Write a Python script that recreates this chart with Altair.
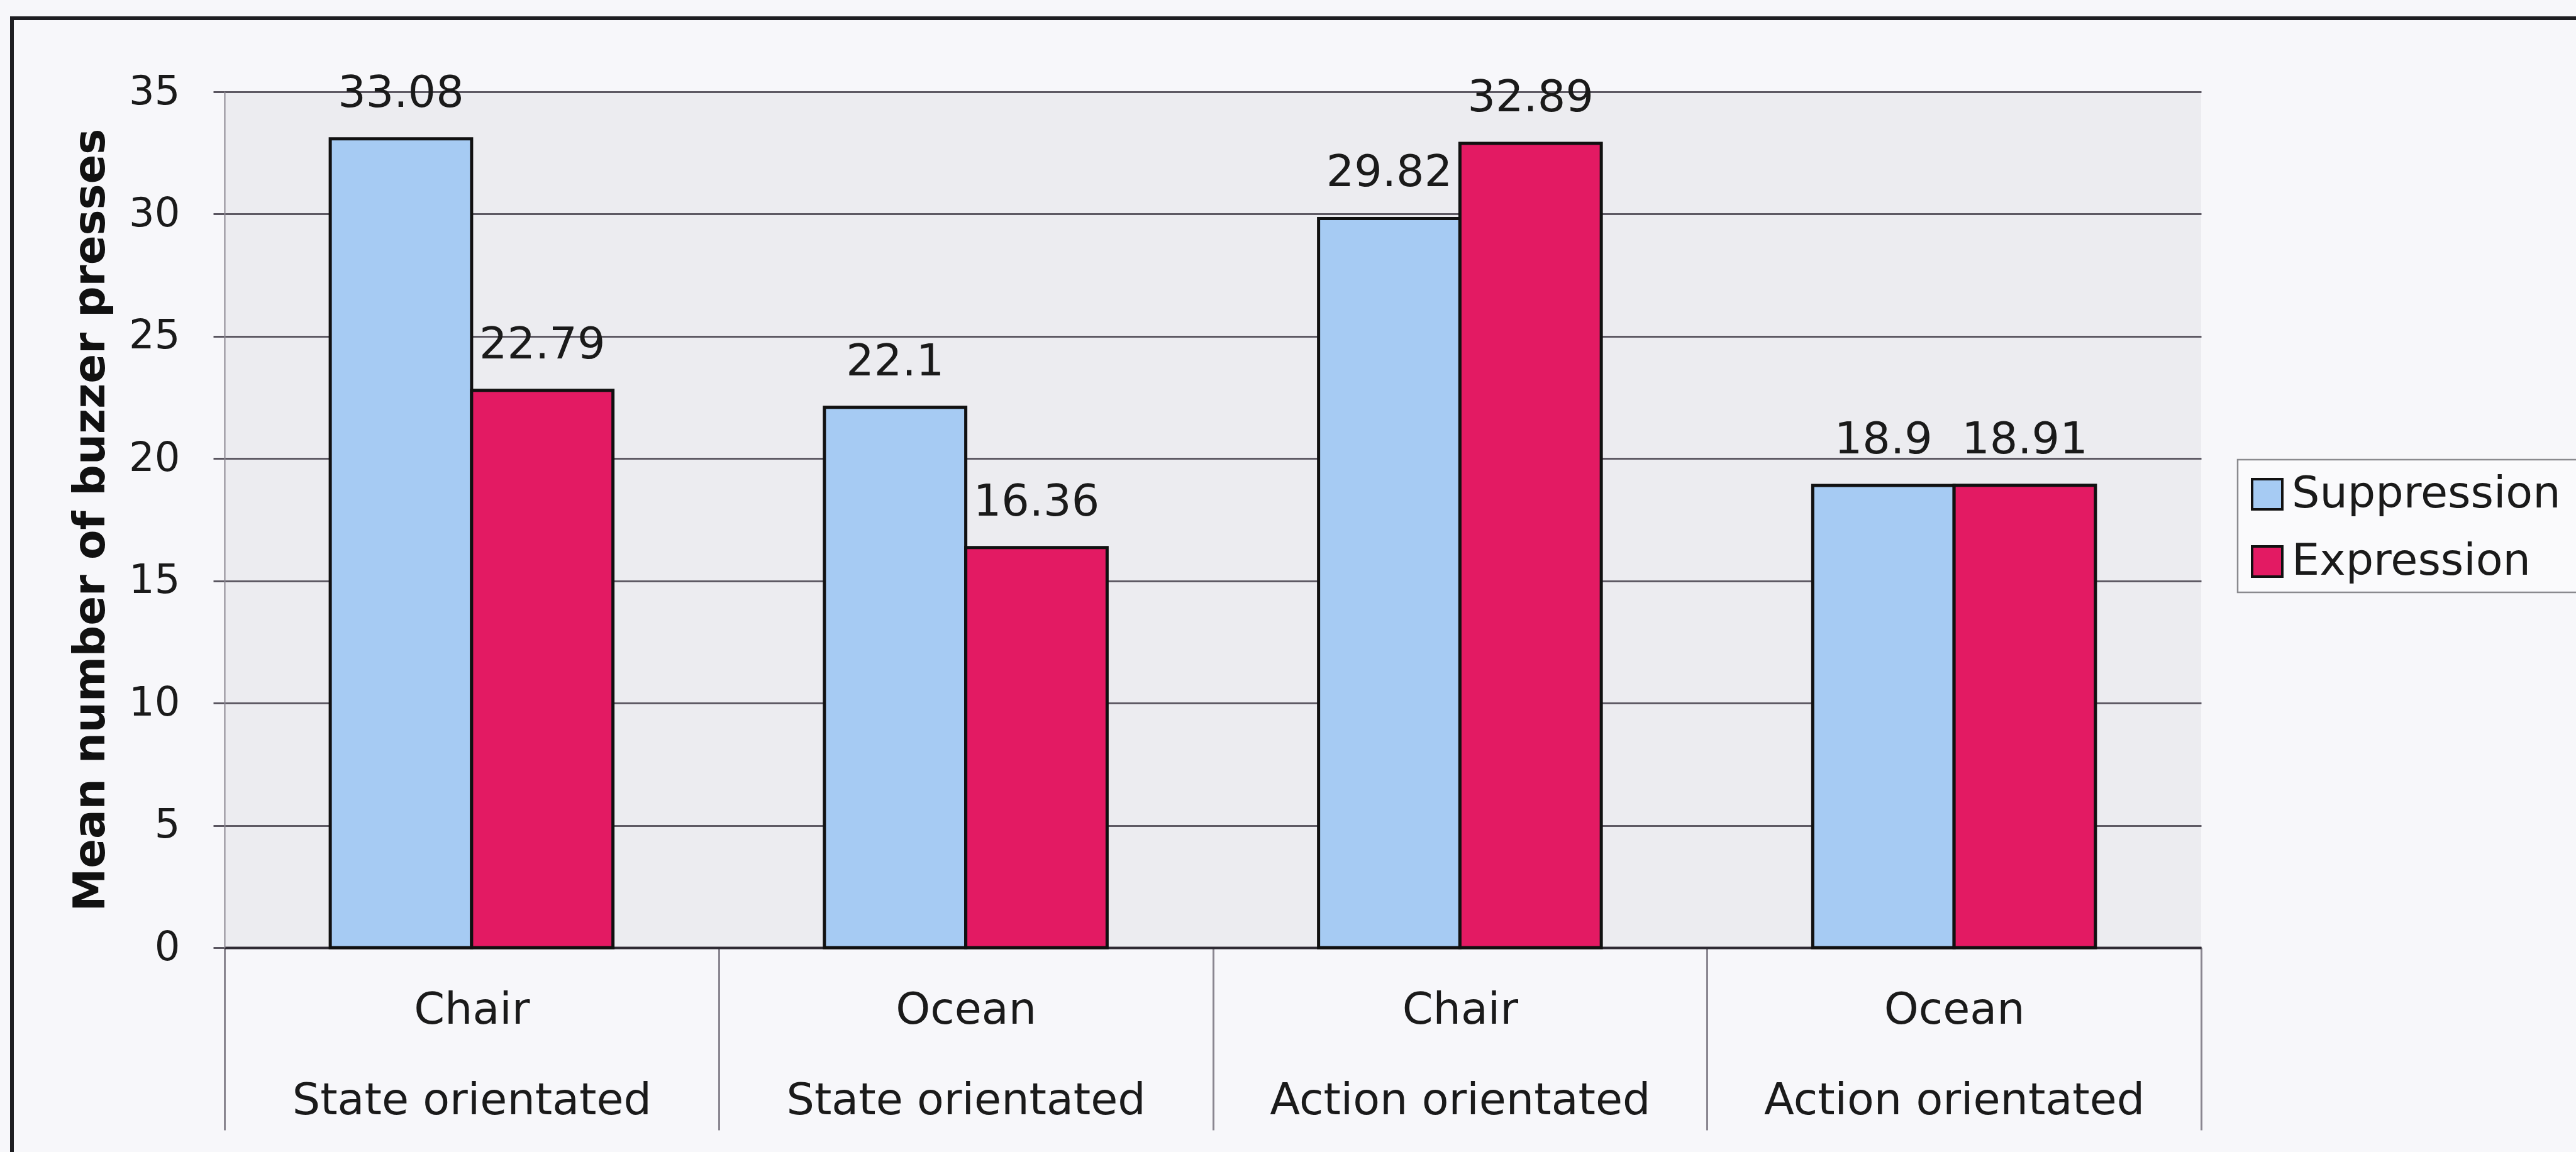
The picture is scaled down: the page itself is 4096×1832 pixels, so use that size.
import altair as alt
import pandas as pd

# Conditions on the x axis (word shown / orientation group)
words = ["Chair", "Ocean", "Chair", "Ocean"]
orientations = ["State orientated", "State orientated", "Action orientated", "Action orientated"]
series = ["Suppression", "Expression"]
suppression = [33.08, 22.1, 29.82, 18.9]
expression = [22.79, 16.36, 32.89, 18.91]
y_ticks = [0, 5, 10, 15, 20, 25, 30, 35]
colors = ["#a6cbf3", "#e31a63"]

conditions = [f"{w} / {o}" for w, o in zip(words, orientations)]
rows = []
for cond, s_val, e_val in zip(conditions, suppression, expression):
    rows.append({"condition": cond, "series": series[0], "value": s_val, "label": str(s_val)})
    rows.append({"condition": cond, "series": series[1], "value": e_val, "label": str(e_val)})
df = pd.DataFrame(rows)

W, H = 3143, 1361
FONT = "DejaVu Sans"

x_enc = alt.X(
    "condition:N",
    sort=conditions,
    scale=alt.Scale(paddingInner=0, paddingOuter=0),
    axis=alt.Axis(
        title=None,
        labelExpr="split(datum.label, ' / ')",
        labelAngle=0,
        labelFont=FONT,
        labelFontSize=70,
        labelColor="#1a1a1a",
        labelLineHeight=144,
        labelBaseline="middle",
        labelPadding=-191,
        labelLimit=0,
        tickBand="extent",
        tickSize=290,
        tickColor="#8a8690",
        tickWidth=3,
        domainColor="#2e2a33",
        domainWidth=4,
    ),
)
xoff_enc = alt.XOffset(
    "series:N", sort=series, scale=alt.Scale(paddingInner=0, paddingOuter=0.748)
)
y_enc = alt.Y(
    "value:Q",
    scale=alt.Scale(domain=[0, 35], nice=False, zero=True),
    axis=alt.Axis(
        values=y_ticks,
        title="Mean number of buzzer presses",
        titleFont=FONT,
        titleFontSize=69,
        titleFontWeight="bold",
        titleColor="#111111",
        titleAngle=270,
        titleAlign="center",
        titleBaseline="middle",
        titleX=-213,
        titleY=H / 2,
        labelFont=FONT,
        labelFontSize=64,
        labelColor="#1a1a1a",
        labelPadding=53,
        tickSize=18,
        tickColor="#5a5660",
        tickWidth=3,
        domainColor="#8a8690",
        domainWidth=2,
        grid=True,
        gridColor="#5e5a64",
        gridWidth=3,
    ),
)
color_enc = alt.Color(
    "series:N",
    sort=series,
    scale=alt.Scale(domain=series, range=colors),
    legend=alt.Legend(
        title=None,
        orient="none",
        legendX=3213,
        legendY=605,
        padding=0,
        symbolType="square",
        symbolSize=2304,
        symbolStrokeColor="#111111",
        symbolStrokeWidth=4,
        symbolOpacity=1,
        labelFont=FONT,
        labelFontSize=70,
        labelColor="#1a1a1a",
        labelOffset=4,
        rowPadding=37,
        labelLimit=0,
    ),
)

base = alt.Chart(df)

bars = base.mark_bar(stroke="#111111", strokeWidth=5).encode(
    x=x_enc, xOffset=xoff_enc, y=y_enc, color=color_enc
)

value_labels = base.mark_text(
    dy=-72, fontSize=70, font=FONT, color="#1a1a1a", baseline="middle"
).encode(x=x_enc, xOffset=xoff_enc, y=y_enc, text="label:N")

# Outer chart frame (left and top edges) and the legend box
deco = alt.Chart(pd.DataFrame({"k": [0]}))
frame_left = deco.mark_rule(color="#1e1e22", strokeWidth=6).encode(
    x=alt.value(-338), y=alt.value(-120), y2=alt.value(1720)
)
frame_top = deco.mark_rule(color="#1e1e22", strokeWidth=6).encode(
    x=alt.value(-340), x2=alt.value(3800), y=alt.value(-117)
)
legend_box = deco.mark_rect(fill="#fafafc", stroke="#8a8a8e", strokeWidth=2.5).encode(
    x=alt.value(3201), x2=alt.value(3800), y=alt.value(585), y2=alt.value(796)
)

chart = (
    alt.layer(frame_left, frame_top, legend_box, bars, value_labels)
    .properties(
        width=W,
        height=H,
        padding={"left": 357, "top": 146, "right": 596, "bottom": 325},
        autosize=alt.AutoSizeParams(type="none"),
        background="#f7f7fa",
    )
    .configure_view(fill="#ececf0", stroke=None)
)

chart.save("out.html", embed_options={"renderer": "svg", "actions": False})
